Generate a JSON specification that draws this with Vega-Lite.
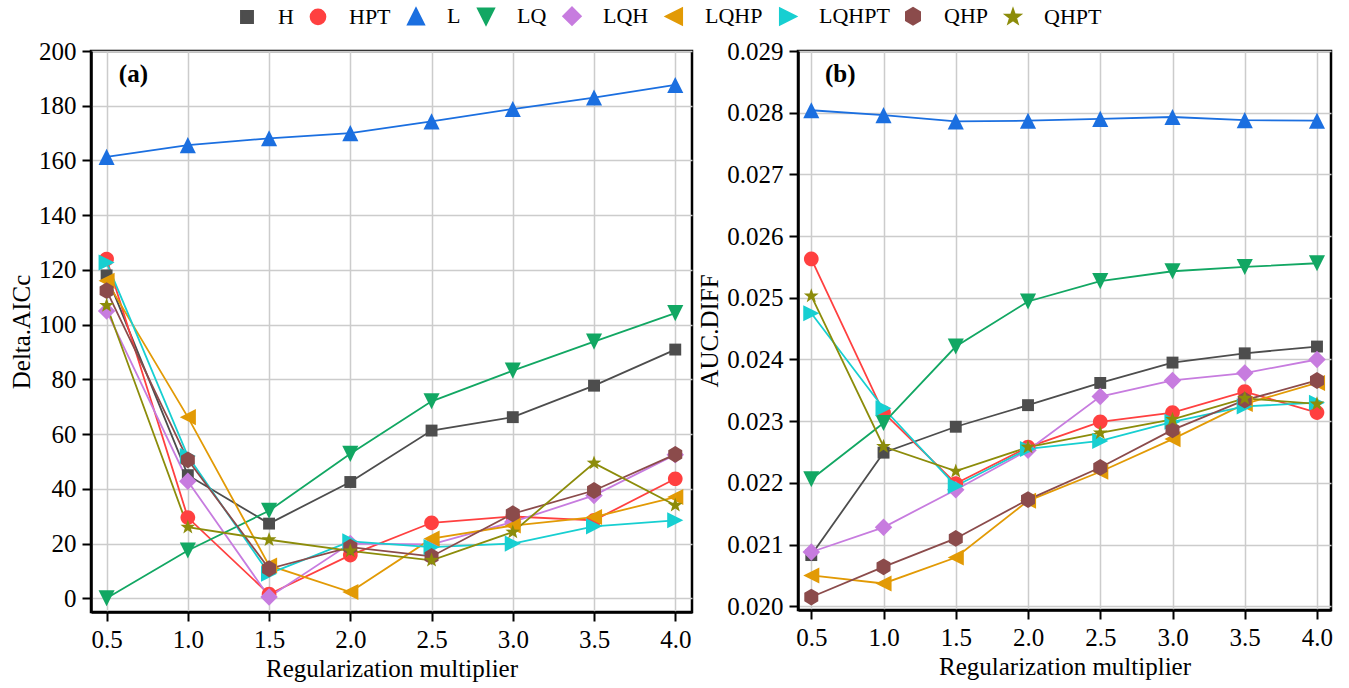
{
  "$schema": "https://vega.github.io/schema/vega-lite/v6.json",
  "padding": {"left": 8, "top": 5, "right": 5, "bottom": 5},
  "spacing": 2,
  "datasets": {
    "a": [
      {"x": 0.5, "y": 118, "series": "H"}, {"x": 1.0, "y": 45, "series": "H"}, {"x": 1.5, "y": 27.3, "series": "H"}, {"x": 2.0, "y": 42.5, "series": "H"}, {"x": 2.5, "y": 61.3, "series": "H"}, {"x": 3.0, "y": 66.2, "series": "H"}, {"x": 3.5, "y": 77.7, "series": "H"}, {"x": 4.0, "y": 90.9, "series": "H"},
      {"x": 0.5, "y": 124, "series": "HPT"}, {"x": 1.0, "y": 29.5, "series": "HPT"}, {"x": 1.5, "y": 1.5, "series": "HPT"}, {"x": 2.0, "y": 15.8, "series": "HPT"}, {"x": 2.5, "y": 27.6, "series": "HPT"}, {"x": 3.0, "y": 29.9, "series": "HPT"}, {"x": 3.5, "y": 28.5, "series": "HPT"}, {"x": 4.0, "y": 43.7, "series": "HPT"},
      {"x": 0.5, "y": 161.3, "series": "L"}, {"x": 1.0, "y": 165.6, "series": "L"}, {"x": 1.5, "y": 168.1, "series": "L"}, {"x": 2.0, "y": 170, "series": "L"}, {"x": 2.5, "y": 174.3, "series": "L"}, {"x": 3.0, "y": 178.8, "series": "L"}, {"x": 3.5, "y": 183, "series": "L"}, {"x": 4.0, "y": 187.6, "series": "L"},
      {"x": 0.5, "y": 0, "series": "LQ"}, {"x": 1.0, "y": 17.5, "series": "LQ"}, {"x": 1.5, "y": 32, "series": "LQ"}, {"x": 2.0, "y": 52.8, "series": "LQ"}, {"x": 2.5, "y": 72, "series": "LQ"}, {"x": 3.0, "y": 83.2, "series": "LQ"}, {"x": 3.5, "y": 93.8, "series": "LQ"}, {"x": 4.0, "y": 104.2, "series": "LQ"},
      {"x": 0.5, "y": 105, "series": "LQH"}, {"x": 1.0, "y": 42.8, "series": "LQH"}, {"x": 1.5, "y": 0.5, "series": "LQH"}, {"x": 2.0, "y": 20, "series": "LQH"}, {"x": 2.5, "y": 19.7, "series": "LQH"}, {"x": 3.0, "y": 27.9, "series": "LQH"}, {"x": 3.5, "y": 37.6, "series": "LQH"}, {"x": 4.0, "y": 52.5, "series": "LQH"},
      {"x": 0.5, "y": 116, "series": "LQHP"}, {"x": 1.0, "y": 66.2, "series": "LQHP"}, {"x": 1.5, "y": 12, "series": "LQHP"}, {"x": 2.0, "y": 2.3, "series": "LQHP"}, {"x": 2.5, "y": 21.8, "series": "LQHP"}, {"x": 3.0, "y": 26.6, "series": "LQHP"}, {"x": 3.5, "y": 29.7, "series": "LQHP"}, {"x": 4.0, "y": 37, "series": "LQHP"},
      {"x": 0.5, "y": 122.7, "series": "LQHPT"}, {"x": 1.0, "y": 52, "series": "LQHPT"}, {"x": 1.5, "y": 9, "series": "LQHPT"}, {"x": 2.0, "y": 20.8, "series": "LQHPT"}, {"x": 2.5, "y": 18.7, "series": "LQHPT"}, {"x": 3.0, "y": 20, "series": "LQHPT"}, {"x": 3.5, "y": 26.3, "series": "LQHPT"}, {"x": 4.0, "y": 28.5, "series": "LQHPT"},
      {"x": 0.5, "y": 112.4, "series": "QHP"}, {"x": 1.0, "y": 50.6, "series": "QHP"}, {"x": 1.5, "y": 10.8, "series": "QHP"}, {"x": 2.0, "y": 18.7, "series": "QHP"}, {"x": 2.5, "y": 15.3, "series": "QHP"}, {"x": 3.0, "y": 30.9, "series": "QHP"}, {"x": 3.5, "y": 39.4, "series": "QHP"}, {"x": 4.0, "y": 52.6, "series": "QHP"},
      {"x": 0.5, "y": 107, "series": "QHPT"}, {"x": 1.0, "y": 26, "series": "QHPT"}, {"x": 1.5, "y": 21.4, "series": "QHPT"}, {"x": 2.0, "y": 17.3, "series": "QHPT"}, {"x": 2.5, "y": 13.9, "series": "QHPT"}, {"x": 3.0, "y": 24.2, "series": "QHPT"}, {"x": 3.5, "y": 49.4, "series": "QHPT"}, {"x": 4.0, "y": 34, "series": "QHPT"}
    ],
    "b": [
      {"x": 0.5, "y": 0.02083, "series": "H"}, {"x": 1.0, "y": 0.02249, "series": "H"}, {"x": 1.5, "y": 0.02291, "series": "H"}, {"x": 2.0, "y": 0.02326, "series": "H"}, {"x": 2.5, "y": 0.02362, "series": "H"}, {"x": 3.0, "y": 0.02395, "series": "H"}, {"x": 3.5, "y": 0.0241, "series": "H"}, {"x": 4.0, "y": 0.02421, "series": "H"},
      {"x": 0.5, "y": 0.02563, "series": "HPT"}, {"x": 1.0, "y": 0.02314, "series": "HPT"}, {"x": 1.5, "y": 0.02199, "series": "HPT"}, {"x": 2.0, "y": 0.02258, "series": "HPT"}, {"x": 2.5, "y": 0.02299, "series": "HPT"}, {"x": 3.0, "y": 0.02314, "series": "HPT"}, {"x": 3.5, "y": 0.02348, "series": "HPT"}, {"x": 4.0, "y": 0.02314, "series": "HPT"},
      {"x": 0.5, "y": 0.02804, "series": "L"}, {"x": 1.0, "y": 0.02796, "series": "L"}, {"x": 1.5, "y": 0.02786, "series": "L"}, {"x": 2.0, "y": 0.02787, "series": "L"}, {"x": 2.5, "y": 0.0279, "series": "L"}, {"x": 3.0, "y": 0.02793, "series": "L"}, {"x": 3.5, "y": 0.02788, "series": "L"}, {"x": 4.0, "y": 0.02787, "series": "L"},
      {"x": 0.5, "y": 0.02206, "series": "LQ"}, {"x": 1.0, "y": 0.02297, "series": "LQ"}, {"x": 1.5, "y": 0.02421, "series": "LQ"}, {"x": 2.0, "y": 0.02494, "series": "LQ"}, {"x": 2.5, "y": 0.02527, "series": "LQ"}, {"x": 3.0, "y": 0.02543, "series": "LQ"}, {"x": 3.5, "y": 0.0255, "series": "LQ"}, {"x": 4.0, "y": 0.02556, "series": "LQ"},
      {"x": 0.5, "y": 0.02088, "series": "LQH"}, {"x": 1.0, "y": 0.02128, "series": "LQH"}, {"x": 1.5, "y": 0.02189, "series": "LQH"}, {"x": 2.0, "y": 0.02253, "series": "LQH"}, {"x": 2.5, "y": 0.0234, "series": "LQH"}, {"x": 3.0, "y": 0.02366, "series": "LQH"}, {"x": 3.5, "y": 0.02378, "series": "LQH"}, {"x": 4.0, "y": 0.024, "series": "LQH"},
      {"x": 0.5, "y": 0.0205, "series": "LQHP"}, {"x": 1.0, "y": 0.02037, "series": "LQHP"}, {"x": 1.5, "y": 0.02079, "series": "LQHP"}, {"x": 2.0, "y": 0.02171, "series": "LQHP"}, {"x": 2.5, "y": 0.02218, "series": "LQHP"}, {"x": 3.0, "y": 0.02271, "series": "LQHP"}, {"x": 3.5, "y": 0.02328, "series": "LQHP"}, {"x": 4.0, "y": 0.02362, "series": "LQHP"},
      {"x": 0.5, "y": 0.02475, "series": "LQHPT"}, {"x": 1.0, "y": 0.02321, "series": "LQHPT"}, {"x": 1.5, "y": 0.02195, "series": "LQHPT"}, {"x": 2.0, "y": 0.02255, "series": "LQHPT"}, {"x": 2.5, "y": 0.02268, "series": "LQHPT"}, {"x": 3.0, "y": 0.02299, "series": "LQHPT"}, {"x": 3.5, "y": 0.02324, "series": "LQHPT"}, {"x": 4.0, "y": 0.0233, "series": "LQHPT"},
      {"x": 0.5, "y": 0.02015, "series": "QHP"}, {"x": 1.0, "y": 0.02064, "series": "QHP"}, {"x": 1.5, "y": 0.0211, "series": "QHP"}, {"x": 2.0, "y": 0.02173, "series": "QHP"}, {"x": 2.5, "y": 0.02225, "series": "QHP"}, {"x": 3.0, "y": 0.02286, "series": "QHP"}, {"x": 3.5, "y": 0.02334, "series": "QHP"}, {"x": 4.0, "y": 0.02366, "series": "QHP"},
      {"x": 0.5, "y": 0.02503, "series": "QHPT"}, {"x": 1.0, "y": 0.02259, "series": "QHPT"}, {"x": 1.5, "y": 0.02219, "series": "QHPT"}, {"x": 2.0, "y": 0.02258, "series": "QHPT"}, {"x": 2.5, "y": 0.02281, "series": "QHPT"}, {"x": 3.0, "y": 0.02303, "series": "QHPT"}, {"x": 3.5, "y": 0.02337, "series": "QHPT"}, {"x": 4.0, "y": 0.02328, "series": "QHPT"}
    ]
  },
  "hconcat": [
    {
      "width": 601,
      "height": 561,
      "data": {"name": "a"},
      "encoding": {
        "x": {"field": "x", "type": "quantitative", "scale": {"domain": [0.404, 4.103], "nice": false, "zero": false},
              "axis": {"values": [0.5, 1.0, 1.5, 2.0, 2.5, 3.0, 3.5, 4.0], "format": ".1f", "title": "Regularization multiplier"}},
        "y": {"field": "y", "type": "quantitative", "scale": {"domain": [-5, 200], "nice": false, "zero": false},
              "axis": {"values": [0, 20, 40, 60, 80, 100, 120, 140, 160, 180, 200], "format": "d", "title": "Delta.AICc"}}
      },
      "layer": [
        {
          "mark": {"type": "line", "strokeWidth": 1.8},
          "encoding": {
            "color": {"field": "series", "type": "nominal", "scale": {"domain": ["H", "HPT", "L", "LQ", "LQH", "LQHP", "LQHPT", "QHP", "QHPT"], "range": ["#4d4d4d", "#ff4040", "#1b6fe0", "#12a763", "#c77cdf", "#e29a05", "#17cfd1", "#8b4b4b", "#8c8c0a"]}},
            "detail": {"field": "series"}
          }
        },
        {
          "mark": {"type": "point", "filled": true, "size": 196, "opacity": 1, "strokeWidth": 0},
          "encoding": {
            "color": {"field": "series", "type": "nominal"},
            "shape": {"field": "series", "type": "nominal",
              "scale": {"domain": ["H", "HPT", "L", "LQ", "LQH", "LQHP", "LQHPT", "QHP", "QHPT"],
                "range": ["M-0.85,-0.85H0.85V0.85H-0.85Z", "M-1.05,0A1.05,1.05,0,1,0,1.05,0A1.05,1.05,0,1,0,-1.05,0Z", "M0,-1.15L1.15,1.15L-1.15,1.15Z", "M0,1.15L1.15,-1.15L-1.15,-1.15Z", "M0,-1.25L1.25,0L0,1.25L-1.25,0Z", "M-1.15,0L1.15,-1.15L1.15,1.15Z", "M1.15,0L-1.15,-1.15L-1.15,1.15Z", "M0,-1.2L1,-0.6L1,0.6L0,1.2L-1,0.6L-1,-0.6Z", "M0,-1.1L0.26,-0.36L1.05,-0.34L0.43,0.14L0.65,0.89L0,0.45L-0.65,0.89L-0.43,0.14L-1.05,-0.34L-0.26,-0.36Z"]}}
          }
        },
        {
          "transform": [{"filter": "datum.series === 'H' && datum.x === 0.5"}],
          "mark": {"type": "text", "font": "Liberation Serif", "fontSize": 25, "fontWeight": "bold", "fill": "black"},
          "encoding": {"x": {"datum": 0.665}, "y": {"datum": 191.7}, "text": {"value": "(a)"}}
        }
      ]
    },
    {
      "width": 533,
      "height": 559,
      "data": {"name": "b"},
      "encoding": {
        "x": {"field": "x", "type": "quantitative", "scale": {"domain": [0.408, 4.097], "nice": false, "zero": false},
              "axis": {"values": [0.5, 1.0, 1.5, 2.0, 2.5, 3.0, 3.5, 4.0], "format": ".1f", "title": "Regularization multiplier"}},
        "y": {"field": "y", "type": "quantitative", "scale": {"domain": [0.01994, 0.029], "nice": false, "zero": false},
              "axis": {"values": [0.020, 0.021, 0.022, 0.023, 0.024, 0.025, 0.026, 0.027, 0.028, 0.029], "format": ".3f", "title": "AUC.DIFF"}}
      },
      "layer": [
        {
          "mark": {"type": "line", "strokeWidth": 1.8},
          "encoding": {
            "color": {"field": "series", "type": "nominal"},
            "detail": {"field": "series"}
          }
        },
        {
          "mark": {"type": "point", "filled": true, "size": 196, "opacity": 1, "strokeWidth": 0},
          "encoding": {
            "color": {"field": "series", "type": "nominal"},
            "shape": {"field": "series", "type": "nominal"}
          }
        },
        {
          "transform": [{"filter": "datum.series === 'H' && datum.x === 0.5"}],
          "mark": {"type": "text", "font": "Liberation Serif", "fontSize": 25, "fontWeight": "bold", "fill": "black"},
          "encoding": {"x": {"datum": 0.70}, "y": {"datum": 0.02862}, "text": {"value": "(b)"}}
        }
      ]
    }
  ],
  "config": {
    "font": "Liberation Serif",
    "view": {"stroke": "black", "strokeWidth": 2.5},
    "axis": {
      "labelFont": "Liberation Serif", "labelFontSize": 25, "labelColor": "black",
      "titleFont": "Liberation Serif", "titleFontSize": 25, "titleFontWeight": "normal", "titleColor": "black",
      "domainColor": "black", "domainWidth": 2.5, "tickColor": "black", "tickWidth": 2, "tickSize": 9,
      "gridColor": "#cccccc", "gridWidth": 1.5, "labelPadding": 6, "titlePadding": 4,
      "labelFlush": false, "labelOverlap": false
    },
    "legend": {
      "orient": "none", "legendX": 145, "legendY": -46, "direction": "horizontal", "title": null,
      "symbolSize": 196, "symbolStrokeWidth": 2, "labelFont": "Liberation Serif", "labelFontSize": 22,
      "labelColor": "black", "labelOffset": 20, "columnPadding": 12, "columns": 9
    }
  }
}
